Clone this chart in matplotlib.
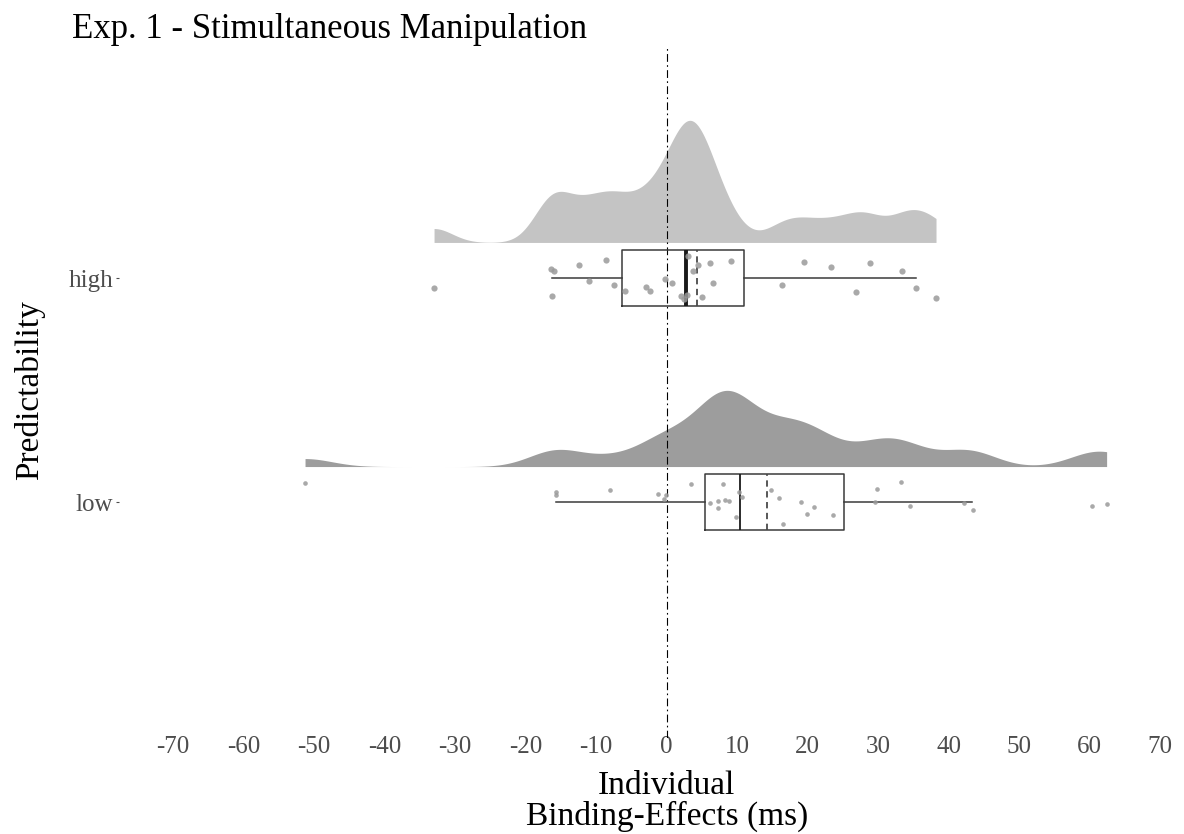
import numpy as np
import matplotlib
matplotlib.use("Agg")
import matplotlib.pyplot as plt

# ---- data -------------------------------------------------------------
groups = ["low", "high"]

high_effects = [-33.0, -16.4, -16.0, -16.2, -12.4, -11.0, -8.6, -7.5, -5.9, -2.9,
                -2.4, -0.3, 0.8, 2.0, 2.5, 2.9, 3.0, 3.8, 4.4, 5.0,
                6.2, 6.5, 9.1, 16.3, 19.5, 23.3, 26.9, 28.9, 33.4, 35.3, 38.2]
high_jitter = [-0.045, 0.040, 0.034, -0.079, 0.059, -0.011, 0.083, -0.031, -0.057, -0.040,
               -0.058, -0.003, -0.022, -0.078, -0.094, -0.075, 0.100, 0.033, 0.059, -0.083,
               0.067, -0.021, 0.077, -0.031, 0.074, 0.049, -0.061, 0.068, 0.033, -0.045, -0.087]

low_effects = [-51.3, -15.7, -15.7, -8.0, -1.3, -0.1, -0.4, 3.5, 6.1, 7.3,
               7.3, 8.0, 8.3, 8.8, 9.9, 10.2, 10.7, 14.8, 15.9, 16.5,
               19.1, 19.9, 20.9, 23.6, 29.6, 29.9, 33.3, 34.5, 42.1, 43.4, 60.3, 62.4]
low_jitter = [0.087, 0.045, 0.033, 0.055, 0.039, 0.033, 0.015, 0.082, -0.003, 0.008,
              -0.025, 0.081, 0.012, 0.005, -0.065, 0.045, 0.025, 0.057, 0.020, -0.096,
              0.000, -0.050, -0.022, -0.058, 0.000, 0.060, 0.091, -0.017, -0.004, -0.035, -0.017, -0.007]

# box summaries (q1, median, q3, lower whisker, upper whisker, mean)
high_box = [-6.4, 2.7, 11.0, -16.2, 35.3, 4.3]
low_box = [5.5, 10.4, 25.1, -15.7, 43.3, 14.2]

x_ticks = list(range(-70, 71, 10))

# ---- style ------------------------------------------------------------
SERIF = ["Liberation Serif", "DejaVu Serif"]
plt.rcParams["font.family"] = SERIF
slab_colors = {"high": "#c4c4c4", "low": "#9d9d9d"}
kde_bandwidth = {"high": 2.6, "low": 3.8}
slab_height = {"high": 0.545, "low": 0.34}
point_size = {"high": 20, "low": 11}
median_lw = {"high": 2.8, "low": 1.3}


def kde(values, grid, bw):
    v = np.asarray(values, dtype=float)
    z = (grid[:, None] - v[None, :]) / bw
    return np.exp(-0.5 * z ** 2).sum(axis=1) / (v.size * bw * np.sqrt(2 * np.pi))


W, H = 1184, 834
fig = plt.figure(figsize=(W / 100, H / 100), dpi=100)

px_per_unit = 7.05
zero_px = 666.7
left_px, right_px = 119, 1184
top_px, bottom_px = 48, 738
row_px = {2: 278.3, 1: 502.4}
py = row_px[1] - row_px[2]

ax = fig.add_axes([left_px / W, 1 - bottom_px / H,
                   (right_px - left_px) / W, (bottom_px - top_px) / H])
ax.set_xlim((left_px - zero_px) / px_per_unit, (right_px - zero_px) / px_per_unit)
ax.set_ylim(1 - (bottom_px - row_px[1]) / py, 2 + (row_px[2] - top_px) / py)

data = {"high": high_effects, "low": low_effects}
jit = {"high": high_jitter, "low": low_jitter}
boxes = {"high": high_box, "low": low_box}
ypos = {"low": 1, "high": 2}

# half-violin densities, trimmed to the observed range
slab_offset = 0.16
for g in groups:
    grid = np.linspace(min(data[g]), max(data[g]), 600)
    d = kde(data[g], grid, kde_bandwidth[g])
    base = ypos[g] + slab_offset
    ax.fill_between(grid, base, base + d / d.max() * slab_height[g],
                    color=slab_colors[g], lw=0, zorder=1)

# reference line at zero
ax.axvline(0, color="black", lw=0.8, ls=(0, (7, 3, 1.5, 3)), zorder=2)

# boxplots
for g in groups:
    q1, med, q3, lo, hi, mean = boxes[g]
    stats = [dict(q1=q1, med=med, q3=q3, whislo=lo, whishi=hi, mean=mean, fliers=[])]
    ax.bxp(stats, positions=[ypos[g]], widths=0.25, orientation="horizontal",
           showcaps=False, showfliers=False, showmeans=True, meanline=True,
           boxprops=dict(color="#3a3a3a", lw=1.1),
           whiskerprops=dict(color="#3a3a3a", lw=1.1),
           medianprops=dict(color="#1a1a1a", lw=median_lw[g]),
           meanprops=dict(color="#4a4a4a", lw=1.3, ls=(0, (3.5, 2.5))),
           manage_ticks=False, zorder=3)

# individual data points
for g in groups:
    ax.scatter(data[g], ypos[g] + np.asarray(jit[g]), s=point_size[g],
               color="#9a9a9a", alpha=0.85, lw=0, zorder=4)

# axes appearance
for s in ax.spines.values():
    s.set_visible(False)
ax.set_yticks([1, 2])
ax.set_yticklabels(groups, fontsize=18, color="#4d4d4d")
ax.set_xticks(x_ticks)
ax.set_xticklabels([str(t) for t in x_ticks], fontsize=18, color="#4d4d4d")
ax.tick_params(axis="y", length=2.2, width=0.8, color="#4d4d4d", pad=2)
ax.tick_params(axis="x", length=0, pad=-1.5)

fig.text(72 / W, 1 - 30 / H, "Exp. 1 - Stimultaneous Manipulation",
         fontsize=25, ha="left", va="center")
fig.text(zero_px / W, 1 - 801 / H, "Individual\nBinding-Effects (ms)",
         fontsize=24, ha="center", va="center", linespacing=1.0)
fig.text(30 / W, 1 - 390 / H, "Predictability", fontsize=24,
         rotation=90, ha="center", va="center")

fig.savefig("out.png", dpi=100, facecolor="white")
